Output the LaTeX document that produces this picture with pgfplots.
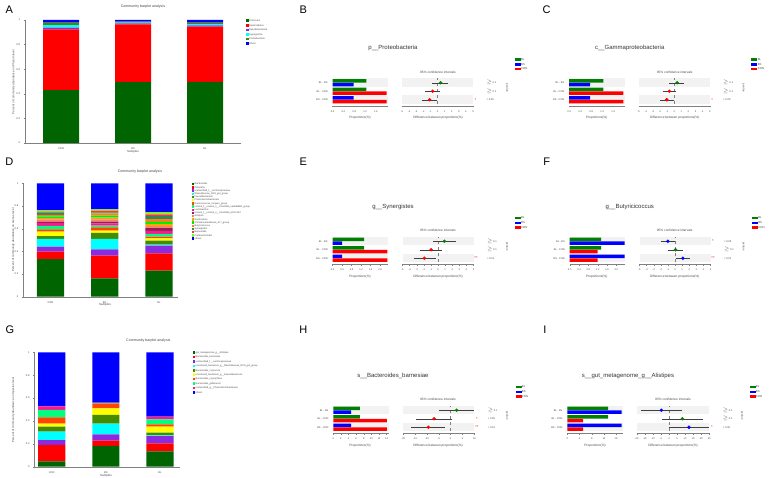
\documentclass[border=0pt]{standalone}
\usepackage{pgfplots}
\pgfplotsset{compat=1.18}
\usepackage{fontspec}
\setmainfont{Liberation Sans}
\newcommand{\fs}[1]{\fontsize{#1}{#1}\selectfont}
\definecolor{cDG}{RGB}{0,100,0}
\definecolor{cR}{RGB}{255,0,0}
\definecolor{cPu}{RGB}{138,43,226}
\definecolor{cCy}{RGB}{0,255,255}
\definecolor{cOl}{RGB}{69,139,0}
\definecolor{cB}{RGB}{0,0,255}
\definecolor{cY}{RGB}{255,255,0}
\definecolor{cOR}{RGB}{255,69,0}
\definecolor{cSG}{RGB}{0,255,127}
\definecolor{cDP}{RGB}{255,20,147}
\definecolor{cMa}{RGB}{139,34,82}
\definecolor{cSal}{RGB}{250,128,114}
\definecolor{cOr}{RGB}{255,165,0}
\definecolor{cLi}{RGB}{0,238,0}
\definecolor{cCo}{RGB}{255,127,36}
\definecolor{cSea}{RGB}{46,139,87}
\definecolor{cRd}{RGB}{238,59,59}
\definecolor{cCh}{RGB}{127,255,0}
\definecolor{eG}{RGB}{0,128,0}
\definecolor{eB}{RGB}{0,0,255}
\definecolor{eR}{RGB}{255,0,0}
\definecolor{band}{RGB}{242,242,242}
\definecolor{txt}{RGB}{70,70,70}
\pgfplotsset{
  stk/.style={scale only axis, ybar stacked, bar width=0.5, ymin=0, ymax=1,
    xtick={0,1,2}, xticklabels={CON,BS,BL},
    ytick={0,0.2,0.4,0.6,0.8,1}, yticklabels={0,0.2,0.4,0.6,0.8,1},
    axis x line*=bottom, axis y line*=left,
    axis line style={gray, line width=0.3pt},
    tick style={gray, line width=0.3pt}, tick align=outside, major tick length=1.5pt,
    ticklabel style={font=\fs{2.6}, text=txt},
    legend cell align=left,
    legend style={draw=none, fill=none, font=\fs{2.4}, inner sep=0pt, anchor=north west,
      nodes={inner sep=0.4pt, text height=1.8pt, text depth=0.5pt, text=txt}},
    legend image code/.code={\fill[##1] (0pt,-1.2pt) rectangle (2.6pt,1.3pt);}},
  eeb/.style={scale only axis, height=27.2pt, ymin=0.3, ymax=3.5,
    axis x line*=bottom, axis y line*=left,
    y axis line style={draw=none}, ytick style={draw=none},
    x axis line style={gray, line width=0.3pt},
    xtick style={gray, line width=0.3pt}, tick align=outside,
    major tick length=1.4pt, minor tick length=0.9pt,
    ticklabel style={font=\fs{2.5}, text=txt}, clip=false},
  barax/.style={eeb, width=55.5pt, xmin=0, ytick={1,2,3},
    yticklabels={BS - CON, BL - CON, BL - BS},
    legend cell align=left,
    legend style={at={(3.28,1.77)}, anchor=north west, draw=none, fill=none,
      font=\fs{2.8}, inner sep=0pt, row sep=1.2pt,
      nodes={inner sep=0.4pt, text height=2.2pt, text depth=0.6pt, text=txt}},
    legend image code/.code={\fill[##1] (0pt,-1.3pt) rectangle (6pt,1.3pt);}},
  ciax/.style={eeb, width=71pt, ytick=\empty},
  bG/.style={xbar, bar width=3.5pt, bar shift=0pt, fill=eG, draw=none},
  bB/.style={xbar, bar width=3.5pt, bar shift=0pt, fill=eB, draw=none},
  bR/.style={xbar, bar width=3.5pt, bar shift=0pt, fill=eR, draw=none},
  ci/.style={only marks, mark=*, mark size=1.5pt, color=#1,
    error bars/.cd, x dir=both, x explicit,
    error bar style={line width=0.3pt, color=darkgray},
    error mark options={line width=0.3pt, color=darkgray, mark size=1.1pt}},
}
\newcommand{\bands}{%
  \fill[band] (rel axis cs:0,0.6875) rectangle (rel axis cs:1,1);
  \fill[band] (rel axis cs:0,0.0625) rectangle (rel axis cs:1,0.375);}
\newcommand{\pv}[3]{%
  \node[anchor=west, font=\fs{2.6}, text=txt] at (rel axis cs:1,0.84375) [xshift=10pt] {#1};
  \node[anchor=west, font=\fs{2.6}, text=txt] at (rel axis cs:1,0.53125) [xshift=10pt] {#2};
  \node[anchor=west, font=\fs{2.6}, text=txt] at (rel axis cs:1,0.21875) [xshift=10pt] {#3};}
\newcommand{\st}[2]{\node[font=\fs{4}, text=red] at (rel axis cs:1,#1) [xshift=2.5pt] {#2};}
\newcommand{\eebtext}[3]{%
  \node[font=\fs{6}, text=black!80] at ({393+#1},{429.7+#2}) {#3};
  \node[font=\fs{3.2}, text=txt] at ({438+#1},{406+#2}) {95\% confidence intervals};
  \node[font=\fs{3.2}, text=txt] at ({360+#1},{360+#2}) {Proportions(\%)};
  \node[font=\fs{3.2}, text=txt] at ({438+#1},{360+#2}) {Difference between proportions(\%)};
  \node[font=\fs{2.8}, text=txt, rotate=-90] at ({507+#1},{390+#2}) {pvalue};}
\begin{document}
\begin{tikzpicture}[x=1pt,y=1pt]
\path[use as bounding box] (0,0) rectangle (770,478);
% ---------------- Panel letters
\node[font=\fs{11}] at (9.3,468) {A};
\node[font=\fs{11}] at (9.3,316) {D};
\node[font=\fs{11}] at (10,148) {G};
\node[font=\fs{11}] at (303.3,468.7) {B};
\node[font=\fs{11}] at (546.7,468.7) {C};
\node[font=\fs{11}] at (303.3,316) {E};
\node[font=\fs{11}] at (546.7,316) {F};
\node[font=\fs{11}] at (303.3,148) {H};
\node[font=\fs{11}] at (545,148) {I};
% ---------------- Panel A
\node[font=\fs{3.6}, text=txt] at (143,471) {Community barplot analysis};
\node[font=\fs{2.9}, text=txt, rotate=90] at (13.5,396) {Percent of community abundance on Phylum level};
\node[font=\fs{3}, text=txt] at (133,326) {Samples};
\begin{axis}[stk, at={(25pt,335pt)}, anchor=south west, width=216pt, height=123pt,
  xmin=-0.5, xmax=2.5, legend style={at={(1.023,1.008)}, row sep=1.5pt}]
\addplot[fill=cDG, draw=none] coordinates {(0,0.430) (1,0.495) (2,0.497)};
\addplot[fill=cR, draw=none] coordinates {(0,0.494) (1,0.470) (2,0.449)};
\addplot[fill=cPu, draw=none] coordinates {(0,0.013) (1,0.008) (2,0.011)};
\addplot[fill=cCy, draw=none] coordinates {(0,0.022) (1,0.006) (2,0.010)};
\addplot[fill=cOl, draw=none] coordinates {(0,0.020) (1,0.008) (2,0.0125)};
\addplot[fill=cB, draw=none] coordinates {(0,0.021) (1,0.013) (2,0.0205)};
\legend{Firmicutes,Bacteroidetes,Desulfobacterota,Synergistota,Proteobacteria,others}
\end{axis}
% ---------------- Panel D
\node[font=\fs{3.6}, text=txt] at (140,306.3) {Community barplot analysis};
\node[font=\fs{2.9}, text=txt, rotate=90] at (13.3,238) {Percent of community abundance on Genus level};
\node[font=\fs{3}, text=txt] at (105,173) {Samples};
\begin{axis}[stk, at={(23.3pt,181.3pt)}, anchor=south west, width=155pt, height=113.4pt,
  xmin=-0.5, xmax=2.356, legend style={at={(1.085,1.007)}, row sep=0.1pt}]
\addplot[fill=cDG, draw=none] coordinates {(0,0.332) (1,0.162) (2,0.229)};
\addplot[fill=cR, draw=none] coordinates {(0,0.065) (1,0.200) (2,0.153)};
\addplot[fill=cPu, draw=none] coordinates {(0,0.044) (1,0.056) (2,0.068)};
\addplot[fill=cCy, draw=none] coordinates {(0,0.068) (1,0.091) (2,0.009)};
\addplot[fill=cOl, draw=none] coordinates {(0,0.026) (1,0.053) (2,0.035)};
\addplot[fill=cY, draw=none] coordinates {(0,0.039) (1,0.020) (2,0.021)};
\addplot[fill=cOR, draw=none] coordinates {(0,0.020) (1,0.030) (2,0.015)};
\addplot[fill=cSG, draw=none] coordinates {(0,0.030) (1,0.015) (2,0.025)};
\addplot[fill=cDP, draw=none] coordinates {(0,0.026) (1,0.020) (2,0.025)};
\addplot[fill=cMa, draw=none] coordinates {(0,0.012) (1,0.015) (2,0.025)};
\addplot[fill=cSal, draw=none] coordinates {(0,0.020) (1,0.020) (2,0.020)};
\addplot[fill=cOr, draw=none] coordinates {(0,0.012) (1,0.015) (2,0.015)};
\addplot[fill=cLi, draw=none] coordinates {(0,0.014) (1,0.018) (2,0.020)};
\addplot[fill=cCo, draw=none] coordinates {(0,0.014) (1,0.020) (2,0.025)};
\addplot[fill=cSea, draw=none] coordinates {(0,0.022) (1,0.008) (2,0.025)};
\addplot[fill=cRd, draw=none] coordinates {(0,0.006) (1,0.015) (2,0.015)};
\addplot[fill=cCh, draw=none] coordinates {(0,0.012) (1,0.012) (2,0.019)};
\addplot[fill=cB, draw=none] coordinates {(0,0.238) (1,0.230) (2,0.256)};
\legend{Bacteroides,Olsenella,unclassified\_f\_\_Lachnospiraceae,Rikenellaceae\_RC9\_gut\_group,Faecalibacterium,Phascolarctobacterium,Ruminococcus\_torques\_group,norank\_f\_\_norank\_o\_\_Clostridia\_vadinBB60\_group,Lactobacillus,norank\_f\_\_norank\_o\_\_Clostridia\_UCG-014,Alistipes,Romboutsia,Christensenellaceae\_R-7\_group,Butyricicoccus,Synergistes,Barnesiella,Parabacteroides,others}
\end{axis}
% ---------------- Panel G
\node[font=\fs{3.6}, text=txt] at (148.3,137.3) {Community barplot analysis};
\node[font=\fs{2.9}, text=txt, rotate=90] at (13.3,68) {Percent of community abundance on Species level};
\node[font=\fs{3}, text=txt] at (106,2.5) {Samples};
\begin{axis}[stk, at={(34.5pt,11.3pt)}, anchor=south west, width=145.5pt, height=114.4pt,
  xmin=-0.318, xmax=2.369, legend style={at={(1.086,1.011)}, row sep=1.3pt}]
\addplot[fill=cDG, draw=none] coordinates {(0,0.047) (1,0.181) (2,0.134)};
\addplot[fill=cR, draw=none] coordinates {(0,0.143) (1,0.046) (2,0.070)};
\addplot[fill=cPu, draw=none] coordinates {(0,0.043) (1,0.056) (2,0.064)};
\addplot[fill=cCy, draw=none] coordinates {(0,0.073) (1,0.093) (2,0.005)};
\addplot[fill=cOl, draw=none] coordinates {(0,0.044) (1,0.076) (2,0.024)};
\addplot[fill=cY, draw=none] coordinates {(0,0.026) (1,0.058) (2,0.053)};
\addplot[fill=cOR, draw=none] coordinates {(0,0.055) (1,0.041) (2,0.020)};
\addplot[fill=cSG, draw=none] coordinates {(0,0.065) (1,0.005) (2,0.044)};
\addplot[fill=cDP, draw=none] coordinates {(0,0.032) (1,0.004) (2,0.023)};
\addplot[fill=cB, draw=none] coordinates {(0,0.472) (1,0.440) (2,0.563)};
\legend{gut\_metagenome\_g\_\_Alistipes,Bacteroides\_barnesiae,unclassified\_f\_\_Lachnospiraceae,uncultured\_bacterium\_g\_\_Rikenellaceae\_RC9\_gut\_group,Bacteroides\_coprocola,uncultured\_bacterium\_g\_\_Faecalibacterium,Bacteroides\_coprophilus,Bacteroides\_gallinarum,unclassified\_g\_\_Phascolarctobacterium,others}
\end{axis}
% ================= Panel B
\eebtext{0}{0}{p\_\_Proteobacteria}
\begin{axis}[barax, at={(332.5pt,372.3pt)}, anchor=south west, xmax=2.05,
  xtick={0,0.4,0.8,1.2,1.6}, minor xtick={0.2,0.6,1.0,1.4,1.8},
  xticklabels={0.0,0.4,0.8,1.2,1.6}]
\bands
\addplot[bG] coordinates {(1.25,3.21) (1.25,2.21)};
\addplot[bB] coordinates {(0.78,2.79) (0.78,1.21)};
\addplot[bR] coordinates {(2.0,1.79) (2.0,0.79)};
\legend{BL,BS,CON}
\end{axis}
\begin{axis}[ciax, at={(402pt,372.3pt)}, anchor=south west, xmin=-5, xmax=5,
  xtick={-5,-4,-3,-2,-1,0,1,2,3,4,5}, xticklabels={-5,-4,-3,-2,-1,0,1,2,3,4,5}]
\bands
\draw[dashed, gray, line width=0.3pt] (axis cs:0,0.5) -- (axis cs:0,3.5);
\addplot[ci=eG] coordinates {(0.45,3) += (0.93,0) -= (1.04,0)};
\addplot[ci=eR] coordinates {(-0.68,2) += (0.84,0) -= (0.89,0)};
\addplot[ci=eR] coordinates {(-1.10,1) += (0.94,0) -= (0.94,0)};
\pv{$\geq$ 0.1}{$\geq$ 0.1}{< 0.05}
\st{0.21875}{*}
\end{axis}
% ================= Panel C
\eebtext{236.7}{0}{c\_\_Gammaproteobacteria}
\begin{axis}[barax, at={(569.2pt,372.3pt)}, anchor=south west, xmax=2.02,
  xtick={0,0.4,0.8,1.2,1.6}, minor xtick={0.2,0.6,1.0,1.4,1.8},
  xticklabels={0.0,0.4,0.8,1.2,1.6}]
\bands
\addplot[bG] coordinates {(1.24,3.21) (1.24,2.21)};
\addplot[bB] coordinates {(0.76,2.79) (0.76,1.21)};
\addplot[bR] coordinates {(1.97,1.79) (1.97,0.79)};
\legend{BL,BS,CON}
\end{axis}
\begin{axis}[ciax, at={(638.7pt,372.3pt)}, anchor=south west, xmin=-5, xmax=5,
  xtick={-5,-4,-3,-2,-1,0,1,2,3,4,5}, xticklabels={-5,-4,-3,-2,-1,0,1,2,3,4,5}]
\bands
\draw[dashed, gray, line width=0.3pt] (axis cs:0,0.5) -- (axis cs:0,3.5);
\addplot[ci=eG] coordinates {(0.40,3) += (0.85,0) -= (0.95,0)};
\addplot[ci=eR] coordinates {(-0.67,2) += (0.83,0) -= (0.80,0)};
\addplot[ci=eR] coordinates {(-1.05,1) += (0.93,0) -= (0.79,0)};
\pv{$\geq$ 0.1}{$\geq$ 0.1}{< 0.05}
\st{0.21875}{*}
\end{axis}
% ================= Panel E
\eebtext{0}{-158.5}{g\_\_Synergistes}
\begin{axis}[barax, at={(332.5pt,213.8pt)}, anchor=south west, xmax=2.33,
  xtick={0,0.4,0.8,1.2,1.6,2.0}, minor xtick={0.2,0.6,1.0,1.4,1.8,2.2},
  xticklabels={0.0,0.4,0.8,1.2,1.6,2.0}]
\bands
\addplot[bG] coordinates {(1.33,3.21) (1.33,2.21)};
\addplot[bB] coordinates {(0.40,2.79) (0.40,1.21)};
\addplot[bR] coordinates {(2.30,1.79) (2.30,0.79)};
\legend{BL,BS,CON}
\end{axis}
\begin{axis}[ciax, at={(402.5pt,213.8pt)}, anchor=south west, xmin=-5, xmax=5,
  xtick={-5,-4,-3,-2,-1,0,1,2,3,4,5}, xticklabels={-5,-4,-3,-2,-1,0,1,2,3,4,5}]
\bands
\draw[dashed, gray, line width=0.3pt] (axis cs:0,0.5) -- (axis cs:0,3.5);
\addplot[ci=eG] coordinates {(0.89,3) += (1.45,0) -= (1.45,0)};
\addplot[ci=eR] coordinates {(-0.98,2) += (1.35,0) -= (1.36,0)};
\addplot[ci=eR] coordinates {(-1.92,1) += (1.45,0) -= (1.35,0)};
\pv{$\geq$ 0.1}{$\geq$ 0.1}{< 0.01}
\st{0.21875}{**}
\end{axis}
% ================= Panel F
\eebtext{236.7}{-158.5}{g\_\_Butyricicoccus}
\begin{axis}[barax, at={(569.7pt,213.8pt)}, anchor=south west, xmax=2.38,
  xtick={0,0.4,0.8,1.2,1.6,2.0}, minor xtick={0.2,0.6,1.0,1.4,1.8,2.2},
  xticklabels={0.0,0.4,0.8,1.2,1.6,2.0}]
\bands
\addplot[bG] coordinates {(1.35,3.21) (1.35,2.21)};
\addplot[bB] coordinates {(2.35,2.79) (2.35,1.21)};
\addplot[bR] coordinates {(1.20,1.79) (1.20,0.79)};
\legend{BL,BS,CON}
\end{axis}
\begin{axis}[ciax, at={(639.5pt,213.8pt)}, anchor=south west, xmin=-5, xmax=5,
  xtick={-5,-4,-3,-2,-1,0,1,2,3,4,5}, xticklabels={-5,-4,-3,-2,-1,0,1,2,3,4,5}]
\bands
\draw[dashed, gray, line width=0.3pt] (axis cs:0,0.5) -- (axis cs:0,3.5);
\addplot[ci=eB] coordinates {(-1.01,3) += (0.85,0) -= (0.84,0)};
\addplot[ci=eG] coordinates {(0.07,2) += (0.85,0) -= (0.84,0)};
\addplot[ci=eB] coordinates {(1.10,1) += (0.85,0) -= (0.79,0)};
\pv{< 0.05}{$\geq$ 0.1}{< 0.01}
\st{0.84375}{*}
\st{0.21875}{**}
\end{axis}
% ================= Panel H
\eebtext{0}{-327.5}{s\_\_Bacteroides\_barnesiae}
\begin{axis}[barax, at={(333.3pt,44.8pt)}, anchor=south west, xmax=14.6,
  xtick={0,2,4,6,8,10,12,14}, xticklabels={0,2,4,6,8,10,12,14}]
\bands
\addplot[bG] coordinates {(7.0,3.21) (7.0,2.21)};
\addplot[bB] coordinates {(4.7,2.79) (4.7,1.21)};
\addplot[bR] coordinates {(14.1,1.79) (14.1,0.79)};
\legend{BL,BS,CON}
\end{axis}
\begin{axis}[ciax, at={(403.3pt,44.8pt)}, anchor=south west, xmin=-20, xmax=10,
  xtick={-20,-15,-10,-5,0,5,10}, xticklabels={-20,-15,-10,-5,0,5,10}]
\bands
\draw[dashed, gray, line width=0.3pt] (axis cs:0,0.5) -- (axis cs:0,3.5);
\addplot[ci=eG] coordinates {(2.5,3) += (6.7,0) -= (7.0,0)};
\addplot[ci=eR] coordinates {(-7.0,2) += (6.9,0) -= (7.0,0)};
\addplot[ci=eR] coordinates {(-9.4,1) += (6.6,0) -= (6.9,0)};
\pv{$\geq$ 0.1}{< 0.05}{< 0.01}
\st{0.53125}{*}
\st{0.21875}{**}
\end{axis}
% ================= Panel I
\eebtext{235}{-327.5}{s\_\_gut\_metagenome\_g\_\_Alistipes}
\begin{axis}[barax, at={(567.3pt,44.8pt)}, anchor=south west, xmax=18.2,
  xtick={0,4,8,12,16}, minor xtick={2,6,10,14,18}, xticklabels={0,4,8,12,16}]
\bands
\addplot[bG] coordinates {(13.4,3.21) (13.4,2.21)};
\addplot[bB] coordinates {(17.8,2.79) (17.8,1.21)};
\addplot[bR] coordinates {(5.2,1.79) (5.2,0.79)};
\legend{BL,BS,CON}
\end{axis}
\begin{axis}[ciax, at={(636.7pt,44.8pt)}, anchor=south west, width=72.6pt, xmin=-20, xmax=25,
  xtick={-20,-15,-10,-5,0,5,10,15,20,25}, xticklabels={-20,-15,-10,-5,0,5,10,15,20,25}]
\bands
\draw[dashed, gray, line width=0.3pt] (axis cs:0,0.5) -- (axis cs:0,3.5);
\addplot[ci=eB] coordinates {(-4.7,3) += (12.4,0) -= (11.8,0)};
\addplot[ci=eG] coordinates {(8.3,2) += (11.8,0) -= (12.0,0)};
\addplot[ci=eB] coordinates {(12.4,1) += (11.8,0) -= (12.0,0)};
\pv{$\geq$ 0.1}{$\geq$ 0.1}{< 0.05}
\st{0.21875}{*}
\end{axis}
\end{tikzpicture}
\end{document}
